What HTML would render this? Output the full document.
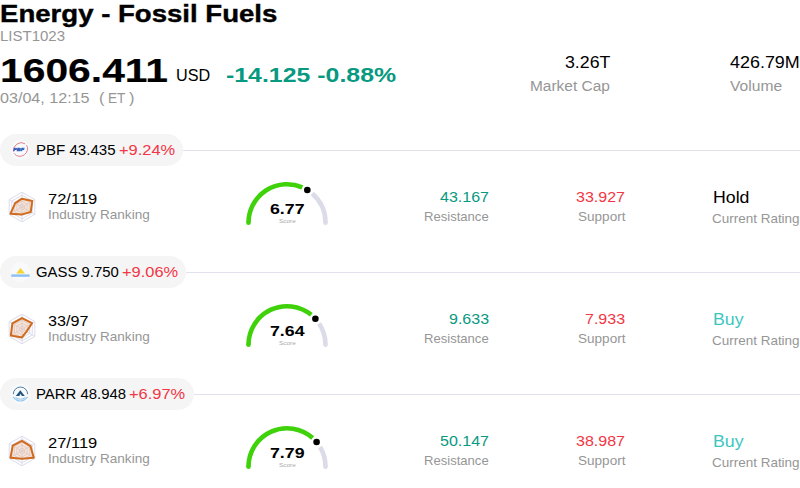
<!DOCTYPE html>
<html><head><meta charset="utf-8"><style>
html,body{margin:0;padding:0;background:#fff;width:800px;height:488px;overflow:hidden}
body{position:relative;font-family:"Liberation Sans", sans-serif}
.t{position:absolute;white-space:nowrap;line-height:1}
.bm{display:inline-block;width:0;height:0;vertical-align:baseline}
.pill{position:absolute;background:#f5f5f6;border-radius:16px}
.ln{position:absolute;height:1px;background:#e2e2ee}
svg{position:absolute;left:0;top:0}
</style></head><body>
<div class="pill" style="left:0px;top:134px;width:183px;height:32px"></div><div class="ln" style="left:183px;top:150px;width:617px"></div><div class="pill" style="left:0px;top:256px;width:186px;height:32px"></div><div class="ln" style="left:186px;top:272px;width:614px"></div><div class="pill" style="left:0px;top:378px;width:194px;height:32px"></div><div class="ln" style="left:194px;top:394px;width:606px"></div>
<svg width="800" height="488" viewBox="0 0 800 488"><circle cx="20.5" cy="150" r="10" fill="#f8f9fa"/><ellipse cx="20.5" cy="149.5" rx="7.4" ry="6.5" fill="none" stroke="#e07a88" stroke-width="0.85" stroke-dasharray="22 2 17 2" transform="rotate(-35 20.5 149.5)"/><text x="13.2" y="151.1" font-family="Liberation Sans, sans-serif" font-size="4.2" font-weight="bold" font-style="italic" fill="#2a58bc" stroke="#2a58bc" stroke-width="0.35" textLength="11" lengthAdjust="spacingAndGlyphs">PBF</text><polygon points="22.00,192.20 34.82,199.60 34.82,214.40 22.00,221.80 9.18,214.40 9.18,199.60" fill="none" stroke="#dcdcec" stroke-width="1"/><polygon points="22.00,195.16 32.25,201.08 32.25,212.92 22.00,218.84 11.75,212.92 11.75,201.08" fill="none" stroke="#dcdcec" stroke-width="1"/><polygon points="22.00,198.12 29.69,202.56 29.69,211.44 22.00,215.88 14.31,211.44 14.31,202.56" fill="none" stroke="#dcdcec" stroke-width="1"/><polygon points="22.00,201.08 27.13,204.04 27.13,209.96 22.00,212.92 16.87,209.96 16.87,204.04" fill="none" stroke="#dcdcec" stroke-width="1"/><polygon points="22.00,204.04 24.56,205.52 24.56,208.48 22.00,209.96 19.44,208.48 19.44,205.52" fill="none" stroke="#dcdcec" stroke-width="1"/><line x1="22" y1="207" x2="22.00" y2="192.20" stroke="#dcdcec" stroke-width="1"/><line x1="22" y1="207" x2="34.82" y2="199.60" stroke="#dcdcec" stroke-width="1"/><line x1="22" y1="207" x2="34.82" y2="214.40" stroke="#dcdcec" stroke-width="1"/><line x1="22" y1="207" x2="22.00" y2="221.80" stroke="#dcdcec" stroke-width="1"/><line x1="22" y1="207" x2="9.18" y2="214.40" stroke="#dcdcec" stroke-width="1"/><line x1="22" y1="207" x2="9.18" y2="199.60" stroke="#dcdcec" stroke-width="1"/><polygon points="22.00,198.71 32.25,201.08 30.72,212.03 22.00,214.40 10.46,213.66 15.21,203.08" fill="rgba(236,170,120,0.3)" stroke="#cf6a1e" stroke-width="2" stroke-linejoin="round"/><path d="M248.50,222.70 A38.5,38.5 0 0 1 302.27,187.36" fill="none" stroke="#3fd20a" stroke-width="4.6"/><circle cx="248.50" cy="222.70" r="2.3" fill="#3fd20a"/><path d="M312.19,193.58 A38.5,38.5 0 0 1 325.50,222.70" fill="none" stroke="#dcdce8" stroke-width="4.6"/><circle cx="325.50" cy="222.70" r="2.3" fill="#dcdce8"/><circle cx="307.32" cy="190.00" r="3.3" fill="#000"/><circle cx="20.5" cy="272" r="10" fill="#f8f9fa"/><polygon points="16.1,273.6 20.5,268 25,273.6" fill="#f5d437"/><rect x="11.3" y="274.4" width="18.3" height="2.4" fill="#5ea8f2" opacity="0.7"/><polygon points="22.00,314.20 34.82,321.60 34.82,336.40 22.00,343.80 9.18,336.40 9.18,321.60" fill="none" stroke="#dcdcec" stroke-width="1"/><polygon points="22.00,317.16 32.25,323.08 32.25,334.92 22.00,340.84 11.75,334.92 11.75,323.08" fill="none" stroke="#dcdcec" stroke-width="1"/><polygon points="22.00,320.12 29.69,324.56 29.69,333.44 22.00,337.88 14.31,333.44 14.31,324.56" fill="none" stroke="#dcdcec" stroke-width="1"/><polygon points="22.00,323.08 27.13,326.04 27.13,331.96 22.00,334.92 16.87,331.96 16.87,326.04" fill="none" stroke="#dcdcec" stroke-width="1"/><polygon points="22.00,326.04 24.56,327.52 24.56,330.48 22.00,331.96 19.44,330.48 19.44,327.52" fill="none" stroke="#dcdcec" stroke-width="1"/><line x1="22" y1="329" x2="22.00" y2="314.20" stroke="#dcdcec" stroke-width="1"/><line x1="22" y1="329" x2="34.82" y2="321.60" stroke="#dcdcec" stroke-width="1"/><line x1="22" y1="329" x2="34.82" y2="336.40" stroke="#dcdcec" stroke-width="1"/><line x1="22" y1="329" x2="22.00" y2="343.80" stroke="#dcdcec" stroke-width="1"/><line x1="22" y1="329" x2="9.18" y2="336.40" stroke="#dcdcec" stroke-width="1"/><line x1="22" y1="329" x2="9.18" y2="321.60" stroke="#dcdcec" stroke-width="1"/><polygon points="22.00,318.05 32.00,323.23 26.49,331.59 22.00,337.44 10.85,335.44 12.39,323.45" fill="rgba(236,170,120,0.3)" stroke="#cf6a1e" stroke-width="2" stroke-linejoin="round"/><path d="M248.50,344.70 A38.5,38.5 0 0 1 311.24,314.79" fill="none" stroke="#3fd20a" stroke-width="4.6"/><circle cx="248.50" cy="344.70" r="2.3" fill="#3fd20a"/><path d="M319.11,323.46 A38.5,38.5 0 0 1 325.50,344.70" fill="none" stroke="#dcdce8" stroke-width="4.6"/><circle cx="325.50" cy="344.70" r="2.3" fill="#dcdce8"/><circle cx="315.39" cy="318.70" r="3.3" fill="#000"/><circle cx="20.5" cy="394" r="10" fill="#f8f9fa"/><path d="M13.3,394.2 A7.1,7.1 0 0 1 27.6,394.2" fill="none" stroke="#2a6090" stroke-width="0.8"/><polygon points="20.3,390.2 24.8,396 15.8,396" fill="#1f5580"/><polygon points="20.6,393.7 21.9,396 19.3,396" fill="#f4f6f8"/><path d="M13,397 Q20.4,405 27.6,397" fill="none" stroke="#9ccbef" stroke-width="1.2"/><path d="M15.5,397.4 Q20.4,401 25.5,397.4" fill="none" stroke="#8ec2ec" stroke-width="1.0"/><polygon points="22.00,436.20 34.82,443.60 34.82,458.40 22.00,465.80 9.18,458.40 9.18,443.60" fill="none" stroke="#dcdcec" stroke-width="1"/><polygon points="22.00,439.16 32.25,445.08 32.25,456.92 22.00,462.84 11.75,456.92 11.75,445.08" fill="none" stroke="#dcdcec" stroke-width="1"/><polygon points="22.00,442.12 29.69,446.56 29.69,455.44 22.00,459.88 14.31,455.44 14.31,446.56" fill="none" stroke="#dcdcec" stroke-width="1"/><polygon points="22.00,445.08 27.13,448.04 27.13,453.96 22.00,456.92 16.87,453.96 16.87,448.04" fill="none" stroke="#dcdcec" stroke-width="1"/><polygon points="22.00,448.04 24.56,449.52 24.56,452.48 22.00,453.96 19.44,452.48 19.44,449.52" fill="none" stroke="#dcdcec" stroke-width="1"/><line x1="22" y1="451" x2="22.00" y2="436.20" stroke="#dcdcec" stroke-width="1"/><line x1="22" y1="451" x2="34.82" y2="443.60" stroke="#dcdcec" stroke-width="1"/><line x1="22" y1="451" x2="34.82" y2="458.40" stroke="#dcdcec" stroke-width="1"/><line x1="22" y1="451" x2="22.00" y2="465.80" stroke="#dcdcec" stroke-width="1"/><line x1="22" y1="451" x2="9.18" y2="458.40" stroke="#dcdcec" stroke-width="1"/><line x1="22" y1="451" x2="9.18" y2="443.60" stroke="#dcdcec" stroke-width="1"/><polygon points="22.00,440.94 30.46,446.12 33.79,457.81 22.00,458.70 10.46,457.66 12.77,445.67" fill="rgba(236,170,120,0.3)" stroke="#cf6a1e" stroke-width="2" stroke-linejoin="round"/><path d="M248.50,466.70 A38.5,38.5 0 0 1 312.62,437.96" fill="none" stroke="#3fd20a" stroke-width="4.6"/><circle cx="248.50" cy="466.70" r="2.3" fill="#3fd20a"/><path d="M320.08,447.00 A38.5,38.5 0 0 1 325.50,466.70" fill="none" stroke="#dcdce8" stroke-width="4.6"/><circle cx="325.50" cy="466.70" r="2.3" fill="#dcdce8"/><circle cx="316.59" cy="442.07" r="3.3" fill="#000"/></svg>
<div class="t" style="top:1.69px;font-size:24.43px;color:#000;font-weight:bold;-webkit-text-stroke:0.4px #000;left:0.00px;transform-origin:0 0;transform:scaleX(1.1291);">Energy - Fossil Fuels<i class="bm"></i></div><div class="t" style="top:29.16px;font-size:14.25px;color:#969696;left:0.00px;transform-origin:0 0;transform:scaleX(1.0517);">LIST1023<i class="bm"></i></div><div class="t" style="top:54.93px;font-size:32.58px;color:#000;font-weight:bold;-webkit-text-stroke:0.15px #000;left:0.00px;transform-origin:0 0;transform:scaleX(1.2531);">1606.411<i class="bm"></i></div><div class="t" style="top:67.45px;font-size:16.29px;color:#000;left:176.00px;transform-origin:0 0;transform:scaleX(0.9941);">USD<i class="bm"></i></div><div class="t" style="top:65.09px;font-size:20.36px;color:#089981;font-weight:bold;left:226.00px;transform-origin:0 0;transform:scaleX(1.2220);">-14.125 -0.88%<i class="bm"></i></div><div class="t" style="top:90.66px;font-size:14.25px;color:#969696;left:0.00px;transform-origin:0 0;transform:scaleX(1.1305);">03/04, 12:15<i class="bm"></i></div><div class="t" style="top:90.66px;font-size:14.25px;color:#969696;left:99.00px;transform-origin:0 0;transform:scaleX(1.1508);">(<i class="bm"></i></div><div class="t" style="top:90.66px;font-size:14.25px;color:#969696;left:108.00px;transform-origin:0 0;transform:scaleX(0.9553);">ET<i class="bm"></i></div><div class="t" style="top:90.66px;font-size:14.25px;color:#969696;left:129.00px;transform-origin:0 0;transform:scaleX(1.1508);">)<i class="bm"></i></div><div class="t" style="top:54.45px;font-size:16.29px;color:#000;left:564.60px;transform-origin:0 0;transform:scaleX(1.0900);">3.26T<i class="bm"></i></div><div class="t" style="top:79.16px;font-size:14.25px;color:#969696;left:530.18px;transform-origin:0 0;transform:scaleX(1.0836);">Market Cap<i class="bm"></i></div><div class="t" style="top:54.45px;font-size:16.29px;color:#000;left:730.30px;transform-origin:0 0;transform:scaleX(1.1010);">426.79M<i class="bm"></i></div><div class="t" style="top:79.16px;font-size:14.25px;color:#969696;left:730.00px;transform-origin:0 0;transform:scaleX(1.0953);">Volume<i class="bm"></i></div><div class="t" style="top:143.16px;font-size:14.25px;color:#000;left:36.00px;transform-origin:0 0;transform:scaleX(1.0567);">PBF 43.435<i class="bm"></i></div><div class="t" style="top:143.16px;font-size:14.25px;color:#f23645;left:118.99px;transform-origin:0 0;transform:scaleX(1.1533);">+9.24%<i class="bm"></i></div><div class="t" style="top:192.16px;font-size:14.25px;color:#000;left:48.00px;transform-origin:0 0;transform:scaleX(1.1580);">72/119<i class="bm"></i></div><div class="t" style="top:209.35px;font-size:12.22px;color:#969696;left:48.00px;transform-origin:0 0;transform:scaleX(1.1096);">Industry Ranking<i class="bm"></i></div><div class="t" style="top:202.16px;font-size:14.25px;color:#000;font-weight:bold;left:269.73px;transform-origin:0 0;transform:scaleX(1.2452);">6.77<i class="bm"></i></div><div class="t" style="top:218.41px;font-size:6.11px;color:#aaa;left:278.60px;transform-origin:0 0;transform:scaleX(1.0532);">Score<i class="bm"></i></div><div class="t" style="top:190.16px;font-size:14.25px;color:#089981;left:440.01px;transform-origin:0 0;transform:scaleX(1.1238);">43.167<i class="bm"></i></div><div class="t" style="top:210.85px;font-size:12.22px;color:#969696;left:424.33px;transform-origin:0 0;transform:scaleX(1.0701);">Resistance<i class="bm"></i></div><div class="t" style="top:190.16px;font-size:14.25px;color:#f23645;left:576.01px;transform-origin:0 0;transform:scaleX(1.1238);">33.927<i class="bm"></i></div><div class="t" style="top:210.85px;font-size:12.22px;color:#969696;left:577.56px;transform-origin:0 0;transform:scaleX(1.1087);">Support<i class="bm"></i></div><div class="t" style="top:189.37px;font-size:16.29px;color:#000;left:712.50px;transform-origin:0 0;transform:scaleX(1.0872);">Hold<i class="bm"></i></div><div class="t" style="top:213.44px;font-size:12.22px;color:#969696;left:712.40px;transform-origin:0 0;transform:scaleX(1.1024);">Current Rating<i class="bm"></i></div><div class="t" style="top:265.16px;font-size:14.25px;color:#000;left:36.00px;transform-origin:0 0;transform:scaleX(1.0442);">GASS 9.750<i class="bm"></i></div><div class="t" style="top:265.16px;font-size:14.25px;color:#f23645;left:122.18px;transform-origin:0 0;transform:scaleX(1.1533);">+9.06%<i class="bm"></i></div><div class="t" style="top:314.16px;font-size:14.25px;color:#000;left:48.00px;transform-origin:0 0;transform:scaleX(1.1313);">33/97<i class="bm"></i></div><div class="t" style="top:331.35px;font-size:12.22px;color:#969696;left:48.00px;transform-origin:0 0;transform:scaleX(1.1096);">Industry Ranking<i class="bm"></i></div><div class="t" style="top:324.16px;font-size:14.25px;color:#000;font-weight:bold;left:269.73px;transform-origin:0 0;transform:scaleX(1.2452);">7.64<i class="bm"></i></div><div class="t" style="top:340.41px;font-size:6.11px;color:#aaa;left:278.60px;transform-origin:0 0;transform:scaleX(1.0532);">Score<i class="bm"></i></div><div class="t" style="top:312.16px;font-size:14.25px;color:#089981;left:448.92px;transform-origin:0 0;transform:scaleX(1.1238);">9.633<i class="bm"></i></div><div class="t" style="top:332.85px;font-size:12.22px;color:#969696;left:424.33px;transform-origin:0 0;transform:scaleX(1.0701);">Resistance<i class="bm"></i></div><div class="t" style="top:312.16px;font-size:14.25px;color:#f23645;left:584.92px;transform-origin:0 0;transform:scaleX(1.1238);">7.933<i class="bm"></i></div><div class="t" style="top:332.85px;font-size:12.22px;color:#969696;left:577.56px;transform-origin:0 0;transform:scaleX(1.1087);">Support<i class="bm"></i></div><div class="t" style="top:311.37px;font-size:16.29px;color:#3cc6bf;left:712.50px;transform-origin:0 0;transform:scaleX(1.0897);">Buy<i class="bm"></i></div><div class="t" style="top:335.44px;font-size:12.22px;color:#969696;left:712.40px;transform-origin:0 0;transform:scaleX(1.1024);">Current Rating<i class="bm"></i></div><div class="t" style="top:387.16px;font-size:14.25px;color:#000;left:36.00px;transform-origin:0 0;transform:scaleX(1.0456);">PARR 48.948<i class="bm"></i></div><div class="t" style="top:387.16px;font-size:14.25px;color:#f23645;left:129.47px;transform-origin:0 0;transform:scaleX(1.1533);">+6.97%<i class="bm"></i></div><div class="t" style="top:436.16px;font-size:14.25px;color:#000;left:48.00px;transform-origin:0 0;transform:scaleX(1.1580);">27/119<i class="bm"></i></div><div class="t" style="top:453.35px;font-size:12.22px;color:#969696;left:48.00px;transform-origin:0 0;transform:scaleX(1.1096);">Industry Ranking<i class="bm"></i></div><div class="t" style="top:446.16px;font-size:14.25px;color:#000;font-weight:bold;left:269.73px;transform-origin:0 0;transform:scaleX(1.2452);">7.79<i class="bm"></i></div><div class="t" style="top:462.41px;font-size:6.11px;color:#aaa;left:278.60px;transform-origin:0 0;transform:scaleX(1.0532);">Score<i class="bm"></i></div><div class="t" style="top:434.16px;font-size:14.25px;color:#089981;left:440.01px;transform-origin:0 0;transform:scaleX(1.1238);">50.147<i class="bm"></i></div><div class="t" style="top:454.85px;font-size:12.22px;color:#969696;left:424.33px;transform-origin:0 0;transform:scaleX(1.0701);">Resistance<i class="bm"></i></div><div class="t" style="top:434.16px;font-size:14.25px;color:#f23645;left:576.01px;transform-origin:0 0;transform:scaleX(1.1238);">38.987<i class="bm"></i></div><div class="t" style="top:454.85px;font-size:12.22px;color:#969696;left:577.56px;transform-origin:0 0;transform:scaleX(1.1087);">Support<i class="bm"></i></div><div class="t" style="top:433.37px;font-size:16.29px;color:#3cc6bf;left:712.50px;transform-origin:0 0;transform:scaleX(1.0897);">Buy<i class="bm"></i></div><div class="t" style="top:457.44px;font-size:12.22px;color:#969696;left:712.40px;transform-origin:0 0;transform:scaleX(1.1024);">Current Rating<i class="bm"></i></div>
</body></html>
